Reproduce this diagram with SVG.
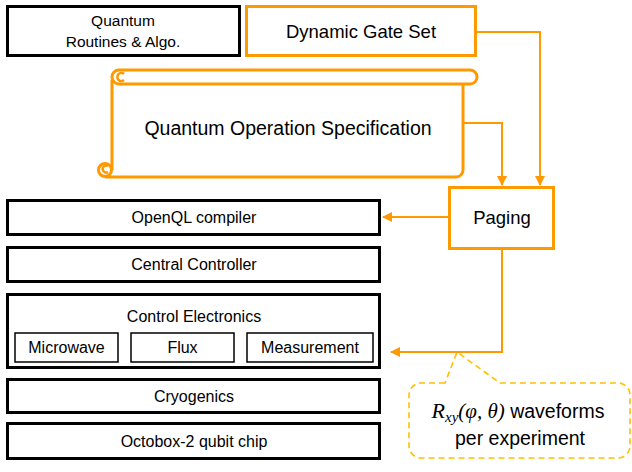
<svg xmlns="http://www.w3.org/2000/svg" width="632" height="472" viewBox="0 0 632 472">
  <defs>
    <style>
      .blk { fill: #fff; stroke: #000; stroke-width: 3; }
      .sub { fill: #fff; stroke: #000; stroke-width: 1.5; }
      .org { fill: #fff; stroke: #ff9900; stroke-width: 3; }
      .wire { fill: none; stroke: #ff9900; stroke-width: 2; }
      .call { fill: #fff; stroke: #ffc000; stroke-width: 1.6; stroke-dasharray: 6 4; }
      text { font-family: "Liberation Sans", "Noto Sans", sans-serif; fill: #000; text-anchor: middle; }
      .t15 { font-size: 15.5px; }
      .t16 { font-size: 16px; }
      .t18 { font-size: 18.5px; }
      .t19 { font-size: 19.5px; }
      .math { font-family: "Liberation Serif", serif; font-style: italic; }
    </style>
    <marker id="arr" viewBox="0 0 10 10" refX="9" refY="5" markerWidth="5" markerHeight="5" orient="auto">
      <path d="M0 0 L10 5 L0 10 Z" fill="#ff9900"/>
    </marker>
  </defs>

  <!-- upper software blocks -->
  <g id="quantum-routines">
    <rect class="blk" x="7.5" y="6.5" width="232" height="49"/>
    <text class="t15" x="123" y="26">Quantum</text>
    <text class="t15" x="123" y="47">Routines &amp; Algo.</text>
  </g>

  <g id="dynamic-gate-set">
    <rect class="org" x="246.5" y="6.5" width="229" height="49"/>
    <text class="t18" x="361" y="38">Dynamic Gate Set</text>
  </g>

  <g id="operation-spec">
    <!-- scroll body -->
    <path class="org" fill="#fff" d="M112 80 V170 M105 177 H456 A7 7 0 0 0 463 170 V84"/>
    <!-- rolled top edge -->
    <rect class="org" x="112" y="70" width="365" height="14" rx="7"/>
    <path fill="none" stroke="#ff9900" stroke-width="2.5" d="M124 74 A4 4 0 1 0 124 80"/>
    <!-- rolled bottom-left corner -->
    <circle fill="#fff" stroke="#ff9900" stroke-width="3" cx="105" cy="170" r="6.5"/>
    <path fill="none" stroke="#ff9900" stroke-width="2.5" d="M108 166 A3.5 3.5 0 1 0 108 172"/>
    <text class="t19" x="288" y="135">Quantum Operation Specification</text>
  </g>

  <g id="paging">
    <rect class="org" x="449.5" y="187.5" width="104" height="61"/>
    <text class="t18" x="502" y="224">Paging</text>
  </g>

  <!-- hardware stack -->
  <g id="openql">
    <rect class="blk" x="7.5" y="200.5" width="372" height="34"/>
    <text class="t16" x="194" y="223">OpenQL compiler</text>
  </g>

  <g id="central-controller">
    <rect class="blk" x="7.5" y="247.5" width="372" height="34"/>
    <text class="t16" x="194" y="270">Central Controller</text>
  </g>

  <g id="control-electronics">
    <rect class="blk" x="7.5" y="294.5" width="372" height="73"/>
    <text class="t16" x="194" y="322">Control Electronics</text>
  </g>
  <g id="microwave">
    <rect class="sub" x="15" y="333" width="103" height="29"/>
    <text class="t16" x="66.5" y="353">Microwave</text>
  </g>
  <g id="flux">
    <rect class="sub" x="131" y="333" width="103" height="29"/>
    <text class="t16" x="182.5" y="353">Flux</text>
  </g>
  <g id="measurement">
    <rect class="sub" x="247" y="333" width="126" height="29"/>
    <text class="t16" x="310" y="353">Measurement</text>
  </g>

  <g id="cryogenics">
    <rect class="blk" x="7.5" y="379.5" width="372" height="33"/>
    <text class="t16" x="194" y="402">Cryogenics</text>
  </g>

  <g id="octobox">
    <rect class="blk" x="7.5" y="423.5" width="372" height="35"/>
    <text class="t16" x="194" y="447">Octobox-2 qubit chip</text>
  </g>

  <!-- callout -->
  <g id="waveform-note">
    <path class="call" d="M445 383 H421 A12 12 0 0 0 409 395 V446 A12 12 0 0 0 421 458 H618 A12 12 0 0 0 630 446 V395 A12 12 0 0 0 618 383 H500 L457 352 Z"/>
    <text class="t19" x="518" y="418"><tspan class="math" font-size="22">R</tspan><tspan class="math" font-size="15" dy="4">xy</tspan><tspan class="math" font-size="21" dy="-4">(φ, θ)</tspan> waveforms</text>
    <text class="t19" x="520" y="445">per experiment</text>
  </g>

  <!-- connectors -->
  <g id="connectors">
    <path class="wire" d="M476 32 H540 V185" marker-end="url(#arr)"/>
    <path class="wire" d="M463 123 H502 V185" marker-end="url(#arr)"/>
    <path class="wire" d="M449 217 H383" marker-end="url(#arr)"/>
    <path class="wire" d="M502 249 V352 H391" marker-end="url(#arr)"/>
  </g>
</svg>
